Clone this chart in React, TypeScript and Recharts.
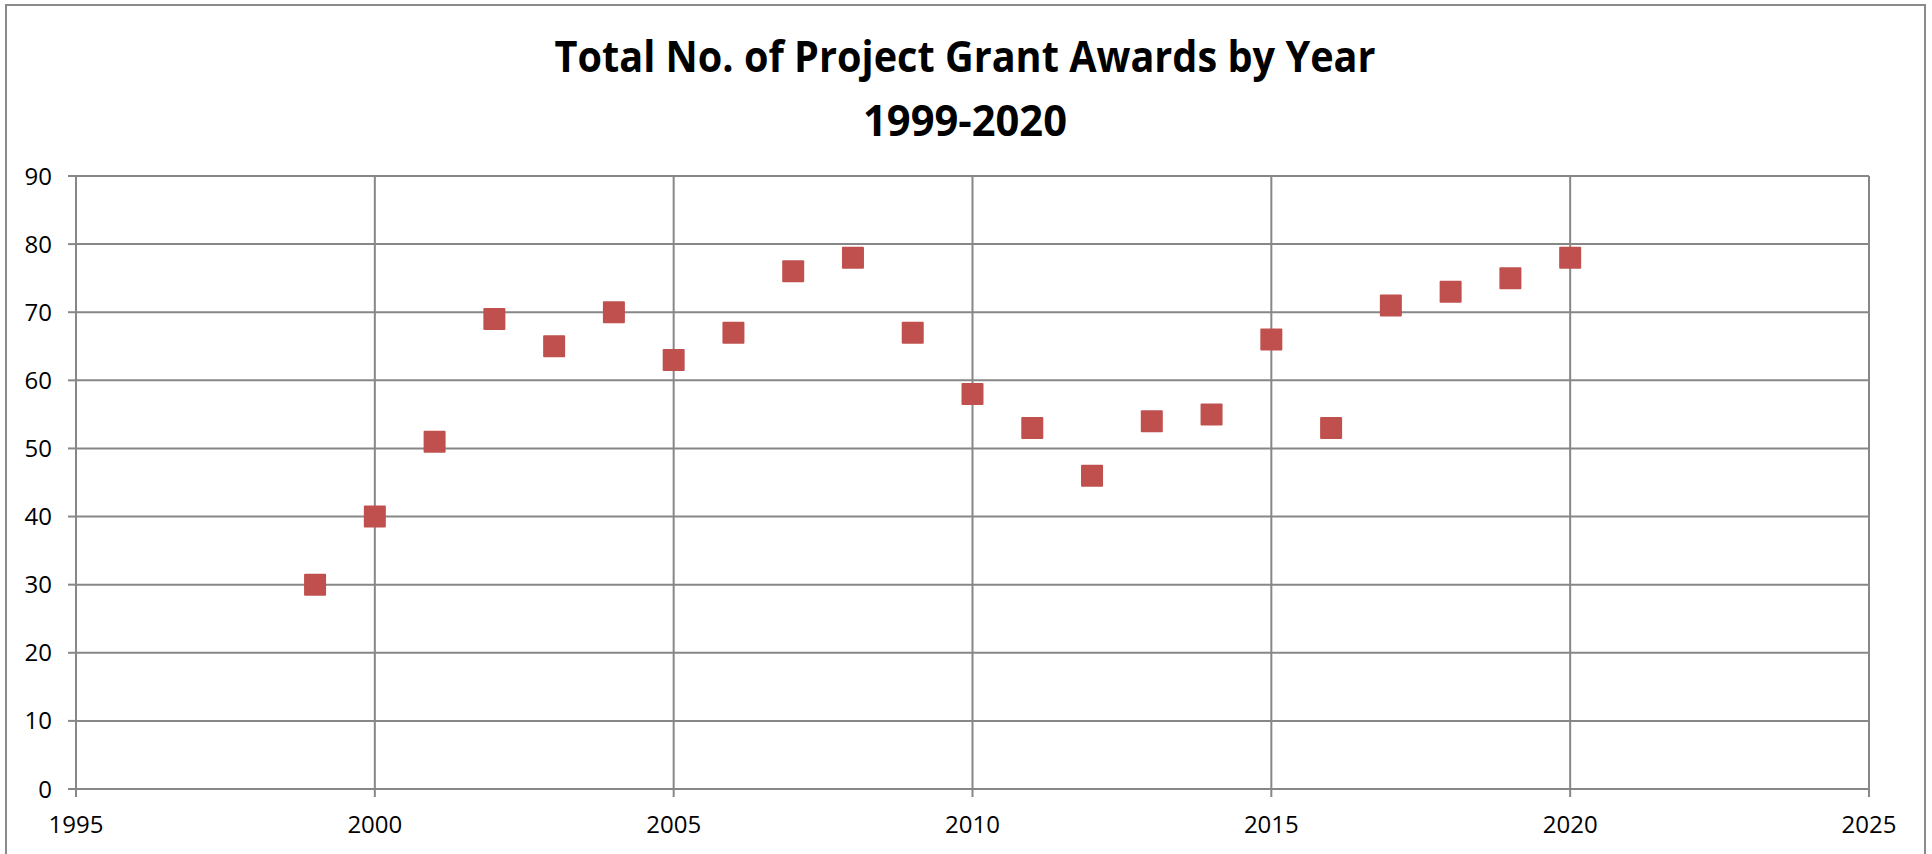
import React from 'react';
import { ScatterChart, Scatter, XAxis, YAxis, CartesianGrid } from 'recharts';

const years = [1999, 2000, 2001, 2002, 2003, 2004, 2005, 2006, 2007, 2008, 2009, 2010, 2011, 2012, 2013, 2014, 2015, 2016, 2017, 2018, 2019, 2020];
const awards = [30, 40, 51, 69, 65, 70, 63, 67, 76, 78, 67, 58, 53, 46, 54, 55, 66, 53, 71, 73, 75, 78];
const xTicks = [1995, 2000, 2005, 2010, 2015, 2020, 2025];
const yTicks = [0, 10, 20, 30, 40, 50, 60, 70, 80, 90];
const titleLine1 = 'Total No. of Project Grant Awards by Year';
const titleLine2 = '1999-2020';

const data = years.map((y, i) => ({ year: y, value: awards[i] }));

const GRID = '#878787';
const MARK = '#C0504D';
const FONT = '"Open Sans", "Liberation Sans", sans-serif';

const SquareShape = (props: any) => {
  const { cx, cy } = props;
  if (cx == null || cy == null) return null;
  const s = 22;
  return <rect x={cx - s / 2} y={cy - s / 2} width={s} height={s} fill={MARK} rx={1} ry={1} />;
};

export default function App() {
  return (
    <div style={{ position: 'fixed', left: 0, top: 0, width: 1932, height: 854, background: '#fff', overflow: 'hidden' }}>
      <div
        style={{
          position: 'absolute',
          left: 5,
          top: 4,
          width: 1921,
          height: 900,
          border: '2.5px solid #8a8a8a',
          boxSizing: 'border-box',
        }}
      />
      <div style={{ position: 'absolute', left: 0, top: 0 }}>
        <ScatterChart width={1932} height={854} margin={{ top: 176, right: 63, bottom: 0, left: 0 }}>
          <CartesianGrid stroke={GRID} strokeWidth={2} />
          <XAxis
            type="number"
            dataKey="year"
            domain={[1995, 2025]}
            ticks={xTicks}
            interval={0}
            height={65}
            tickSize={8}
            tickMargin={19}
            axisLine={{ stroke: GRID, strokeWidth: 2 }}
            tickLine={{ stroke: GRID, strokeWidth: 2 }}
            tick={{ fill: '#000', fontSize: 24, fontFamily: FONT }}
          />
          <YAxis
            type="number"
            dataKey="value"
            domain={[0, 90]}
            ticks={yTicks}
            interval={0}
            width={76}
            tickSize={8}
            tickMargin={16}
            axisLine={{ stroke: GRID, strokeWidth: 2 }}
            tickLine={{ stroke: GRID, strokeWidth: 2 }}
            tick={{ fill: '#000', fontSize: 24, fontFamily: FONT }}
          />
          <Scatter data={data} shape={SquareShape} isAnimationActive={false} />
        </ScatterChart>
      </div>
      <svg width={1932} height={160} style={{ position: 'absolute', left: 0, top: 0 }}>
        <text
          x={965}
          y={72}
          textAnchor="middle"
          fontFamily={FONT}
          fontWeight={700}
          fontSize={43}
          fill="#000"
          textLength={821}
          lengthAdjust="spacingAndGlyphs"
        >
          {titleLine1}
        </text>
        <text
          x={965}
          y={136}
          textAnchor="middle"
          fontFamily={FONT}
          fontWeight={700}
          fontSize={43}
          fill="#000"
          textLength={204}
          lengthAdjust="spacingAndGlyphs"
        >
          {titleLine2}
        </text>
      </svg>
    </div>
  );
}
